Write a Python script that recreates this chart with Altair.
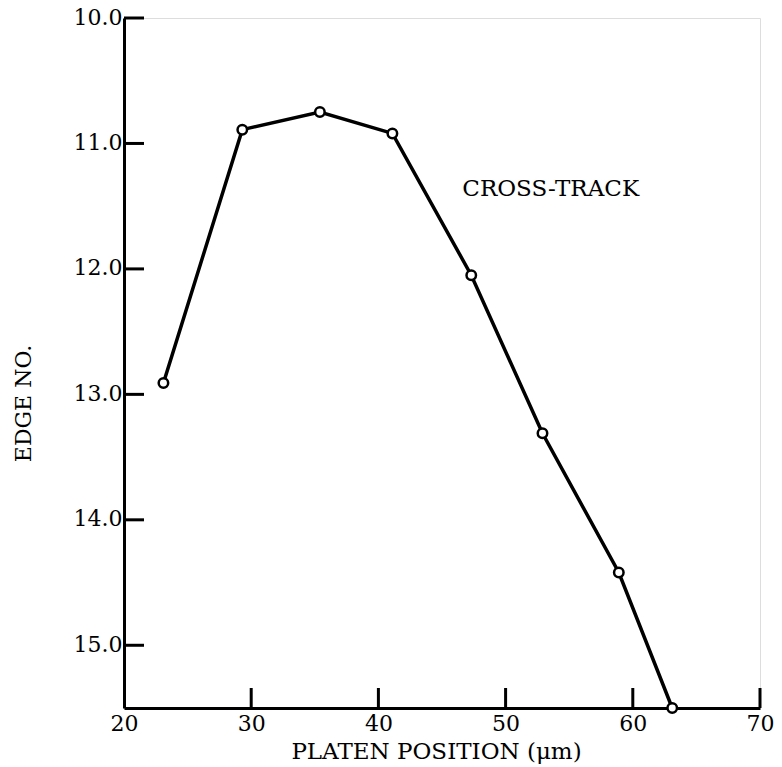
import altair as alt
import pandas as pd

# Data
platen_position = [23.1, 29.3, 35.4, 41.1, 47.3, 52.9, 58.9, 63.1]
edge_no = [12.91, 10.89, 10.75, 10.92, 12.05, 13.31, 14.42, 15.5]

x_tick_values = [20, 30, 40, 50, 60, 70]
y_tick_values = [10.0, 11.0, 12.0, 13.0, 14.0, 15.0]
x_inward_ticks = [30, 40, 50, 60, 70]

label_text = ["CROSS-TRACK"]
label_x = [46.6]
label_y = [11.36]

W, H = 636, 690
FONT = "DejaVu Serif"

df = pd.DataFrame({"x": platen_position, "y": edge_no})
xs = alt.Scale(domain=[20, 70], nice=False, zero=False)
ys = alt.Scale(domain=[10, 15.5], reverse=True, nice=False, zero=False)

x_axis = alt.Axis(
    values=x_tick_values, format="d", ticks=False, grid=False,
    domainColor="black", domainWidth=3, labelFont=FONT, labelFontSize=22,
    labelColor="black", labelPadding=5, labelFlush=False,
    title="PLATEN POSITION (\u03bcm)", titleFont=FONT, titleFontSize=23,
    titleFontWeight="normal", titleColor="black", titleX=312, titleY=32,
    titleAnchor="middle", titleAlign="center", titleBaseline="top",
)
y_axis = alt.Axis(
    values=y_tick_values, format=".1f", ticks=False, grid=False,
    domainColor="black", domainWidth=3, labelFont=FONT, labelFontSize=22,
    labelColor="black", labelPadding=2, labelOffset=-1, labelFlush=False,
    title="EDGE NO.", titleFont=FONT, titleFontSize=22,
    titleFontWeight="normal", titleColor="black", titleX=-101, titleY=385,
    titleAngle=270, titleAlign="center", titleBaseline="middle",
)

base = alt.Chart(df)
line = base.mark_line(color="black", strokeWidth=3.5).encode(
    x=alt.X("x:Q", scale=xs, axis=x_axis),
    y=alt.Y("y:Q", scale=ys, axis=y_axis),
)
points = base.mark_point(
    shape="circle", filled=True, fill="white", stroke="black",
    strokeWidth=2.5, size=90, opacity=1,
).encode(x=alt.X("x:Q", scale=xs), y=alt.Y("y:Q", scale=ys))

ytick_df = pd.DataFrame({"y": y_tick_values})
yticks = alt.Chart(ytick_df).mark_rule(color="black", strokeWidth=3).encode(
    y=alt.Y("y:Q", scale=ys), x=alt.value(0), x2=alt.value(20)
)
xtick_df = pd.DataFrame({"x": x_inward_ticks})
xticks = alt.Chart(xtick_df).mark_rule(color="black", strokeWidth=3).encode(
    x=alt.X("x:Q", scale=xs), y=alt.value(H), y2=alt.value(H - 20)
)

label_df = pd.DataFrame({"x": label_x, "y": label_y, "t": label_text})
label = alt.Chart(label_df).mark_text(
    font=FONT, fontSize=23, color="black", align="left", baseline="middle"
).encode(x=alt.X("x:Q", scale=xs), y=alt.Y("y:Q", scale=ys), text="t:N")

chart = alt.layer(line, yticks, xticks, points, label).properties(
    width=W, height=H,
    autosize=alt.AutoSizeParams(type="none"),
    padding={"left": 124, "top": 18, "right": 22, "bottom": 59},
).configure_view(stroke=None).configure(background="white")

chart.save("out.html", embed_options={"renderer": "svg", "actions": False})
